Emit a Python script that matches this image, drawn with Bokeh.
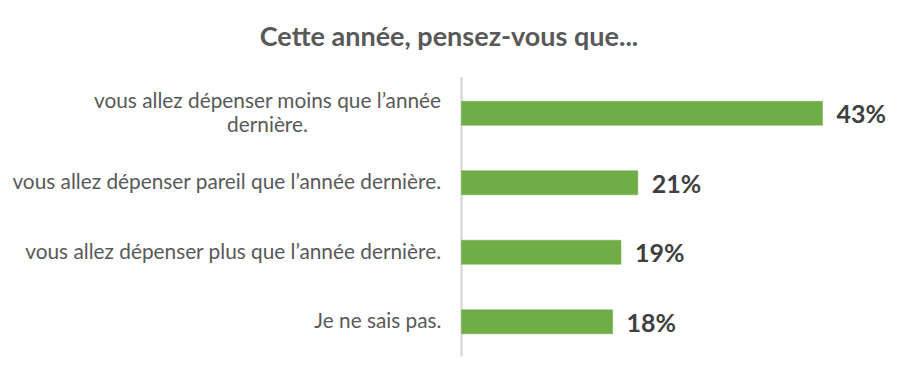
from bokeh.plotting import figure
from bokeh.models import Range1d
from bokeh.core.properties import value
from bokeh.embed import file_html
from bokeh.resources import INLINE

# ---- data ----
categories = [
    "vous allez dépenser moins que l’année dernière.",
    "vous allez dépenser pareil que l’année dernière.",
    "vous allez dépenser plus que l’année dernière.",
    "Je ne sais pas.",
]
label_lines = [
    ["vous allez dépenser moins que l’année", "dernière."],
    ["vous allez dépenser pareil que l’année dernière."],
    ["vous allez dépenser plus que l’année dernière."],
    ["Je ne sais pas."],
]
values = [43, 21, 19, 18]
value_labels = [f"{v}%" for v in values]
title_text = "Cette année, pensez-vous que..."

# ---- layout constants (pixels) ----
W, H = 897, 371
AXIS_PX = 461          # axis line x inside figure
PX_PER_UNIT_X = 361 / 43
BOTTOM_PX = 356        # y of category-axis bottom inside figure (from top)
PX_PER_CAT = 69.5
FONT = "Lato"
LABEL_SIZE = "20.8px"
LABEL_DY = -2

x_start = -AXIS_PX / PX_PER_UNIT_X
x_end = (W - AXIS_PX) / PX_PER_UNIT_X
y_start = (BOTTOM_PX - H) / PX_PER_CAT
y_end = BOTTOM_PX / PX_PER_CAT

p = figure(width=W, height=H, output_backend="svg", toolbar_location=None,
           x_range=Range1d(x_start, x_end), y_range=Range1d(y_start, y_end),
           x_axis_type=None, y_axis_type=None, min_border=0)
p.outline_line_color = None
p.grid.visible = False
p.background_fill_color = "white"
p.border_fill_color = "white"

n = len(categories)
ys = [n - i - 0.5 for i in range(n)]

# axis line
p.segment(x0=[0], y0=[0], x1=[0], y1=[n + 0.02], line_color="#D4D4D4", line_width=2)

# bars
p.hbar(y=ys, left=0, right=values, height=24 / PX_PER_CAT, fill_color="#70AD47",
       line_color="#70AD47", line_width=0.5)

# value labels
p.text(x=values, y=ys, text=value_labels, x_offset=14, text_align="left",
       text_baseline="middle", text_font=value(FONT), text_font_style="bold",
       text_font_size="25px", text_color="#404040")

# category labels
LABEL_GAP = 20
LINE1_W = 348
for y, lines in zip(ys, label_lines):
    if len(lines) == 1:
        p.text(x=[0], y=[y], text=[lines[0]], x_offset=-LABEL_GAP, y_offset=LABEL_DY,
               text_align="right", text_baseline="middle", text_font=value(FONT),
               text_font_size=LABEL_SIZE, text_color="#595959")
    else:
        p.text(x=[0], y=[y], text=[lines[0]], x_offset=-LABEL_GAP, y_offset=LABEL_DY - 12,
               text_align="right", text_baseline="middle", text_font=value(FONT),
               text_font_size=LABEL_SIZE, text_color="#595959")
        p.text(x=[0], y=[y], text=[lines[1]], x_offset=-LABEL_GAP - LINE1_W / 2,
               y_offset=LABEL_DY + 12, text_align="center", text_baseline="middle",
               text_font=value(FONT), text_font_size=LABEL_SIZE, text_color="#595959")

# title
p.text(x=[(x_start + x_end) / 2], y=[y_end], text=[title_text], y_offset=35,
       text_align="center", text_baseline="middle", text_font=value(FONT),
       text_font_style="bold", text_font_size="27px", text_color="#595959")

open("out.html", "w").write(file_html(p, INLINE))
